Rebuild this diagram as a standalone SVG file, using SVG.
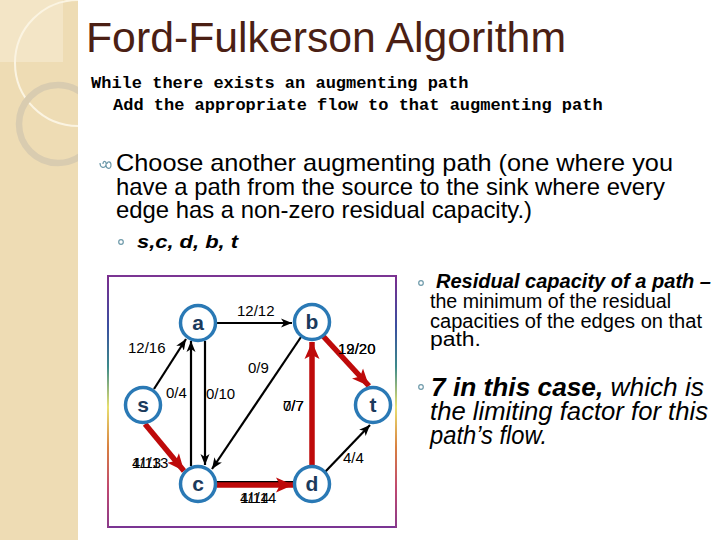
<svg xmlns="http://www.w3.org/2000/svg" width="720" height="540" viewBox="0 0 720 540">
<style>
.title{font-family:"Liberation Sans",Arial,sans-serif;font-size:42px;fill:#4B1F14}
.code{font-family:"Liberation Mono","Courier New",monospace;font-size:17px;font-weight:bold;fill:#000}
.body{font-family:"Liberation Sans",Arial,sans-serif;font-size:24px;fill:#000}
.sub{font-family:"Liberation Sans",Arial,sans-serif;font-size:19px;font-weight:bold;font-style:italic;fill:#000}
.side{font-family:"Liberation Sans",Arial,sans-serif;font-size:19.5px;fill:#000}
.side2{font-family:"Liberation Sans",Arial,sans-serif;font-size:25.5px;font-style:italic;fill:#000}
.bi{font-weight:bold;font-style:italic}
.node circle{fill:#fff;stroke:#2A79B5;stroke-width:3.5}
.node text{font-family:"Liberation Sans",Arial,sans-serif;font-size:21px;font-weight:bold;fill:#1B3A5C;text-anchor:middle}
.blk{stroke:#000;stroke-width:2.2;fill:none;marker-end:url(#ab)}
.red{stroke:#BE0A0A;stroke-width:5.5;fill:none;marker-end:url(#ar)}
.lbl{font-family:"Liberation Sans",Arial,sans-serif;font-size:15px;fill:#000}
.bul{fill:none;stroke:#6E9AAA;stroke-width:1.2}
</style>
<defs>
<marker id="ab" markerUnits="userSpaceOnUse" markerWidth="12" markerHeight="10" refX="11" refY="5" orient="auto">
<path d="M0,0.5 L11,5 L0,9.5 L3,5 z" fill="#000"/>
</marker>
<marker id="ar" markerUnits="userSpaceOnUse" markerWidth="18" markerHeight="16" refX="17" refY="8" orient="auto">
<path d="M0,0.5 L17,8 L0,15.5 L4,8 z" fill="#BE0A0A"/>
</marker>
<linearGradient id="rainbow" gradientUnits="userSpaceOnUse" x1="0" y1="276" x2="0" y2="528">
<stop offset="0" stop-color="#7B2D8E"/>
<stop offset="0.2" stop-color="#3A4EA0"/>
<stop offset="0.36" stop-color="#3C8A8A"/>
<stop offset="0.52" stop-color="#E8E070"/>
<stop offset="0.68" stop-color="#D88040"/>
<stop offset="0.84" stop-color="#C04870"/>
<stop offset="1" stop-color="#8A3A8A"/>
</linearGradient>
<clipPath id="panelclip"><rect x="0" y="0" width="78" height="540"/></clipPath>
</defs>

<rect x="0" y="0" width="720" height="540" fill="#fff"/>
<g id="side-panel">
<rect x="0" y="0" width="78" height="540" fill="#EEDCB4"/>
<g clip-path="url(#panelclip)">
<rect x="0" y="0" width="63" height="62" fill="#F3E5C6"/>
<circle cx="78" cy="63" r="63" fill="none" stroke="#FBF4E2" stroke-width="2"/>
<circle cx="58" cy="124" r="39" fill="none" stroke="#D9CCB0" stroke-width="6.5"/>
</g>
</g>

<text class="title" x="86" y="52" textLength="480" lengthAdjust="spacingAndGlyphs">Ford-Fulkerson Algorithm</text>
<text class="code" x="91" y="88">While there exists an augmenting path</text>
<text class="code" x="113" y="110">Add the appropriate flow to that augmenting path</text>

<path class="bul" d="M100,163 c0,5 5,6 6,2 c1,-4 -3,-5 -3,-1 M106,165 c0,4 5,5 5,0 c0,-4 -4,-4 -4,-1"/>
<text class="body" x="116" y="171" textLength="557" lengthAdjust="spacingAndGlyphs">Choose another augmenting path (one where you</text>
<text class="body" x="116" y="195" textLength="549" lengthAdjust="spacingAndGlyphs">have a path from the source to the sink where every</text>
<text class="body" x="116" y="218" textLength="416" lengthAdjust="spacingAndGlyphs">edge has a non-zero residual capacity.)</text>
<circle class="bul" cx="121" cy="242" r="2.3"/>
<text class="sub" x="137" y="248" textLength="101" lengthAdjust="spacingAndGlyphs">s,c, d, b, t</text>

<circle class="bul" cx="421" cy="283" r="2.3"/>
<text class="side bi" x="436" y="288" textLength="275" lengthAdjust="spacingAndGlyphs">Residual capacity of a path –</text>
<text class="side" x="430" y="308" textLength="241" lengthAdjust="spacingAndGlyphs">the minimum of the residual</text>
<text class="side" x="430" y="328" textLength="272" lengthAdjust="spacingAndGlyphs">capacities of the edges on that</text>
<text class="side" x="430" y="346" textLength="51" lengthAdjust="spacingAndGlyphs">path.</text>

<circle class="bul" cx="421" cy="387" r="2.3"/>
<text class="side2" x="431" y="396" textLength="273" lengthAdjust="spacingAndGlyphs"><tspan font-weight="bold">7 in this case,</tspan> which is</text>
<text class="side2" x="430" y="420" textLength="278" lengthAdjust="spacingAndGlyphs">the limiting factor for this</text>
<text class="side2" x="430" y="444" textLength="117" lengthAdjust="spacingAndGlyphs">path’s flow.</text>

<g id="frame">
<line x1="108" y1="276" x2="396" y2="276" stroke="#7B3593" stroke-width="2"/>
<line x1="108" y1="527" x2="396" y2="527" stroke="#7B3593" stroke-width="2"/>
<line x1="108" y1="275" x2="108" y2="528" stroke="url(#rainbow)" stroke-width="2"/>
<line x1="396" y1="275" x2="396" y2="528" stroke="url(#rainbow)" stroke-width="2"/>
</g>

<g id="connectors">
<line class="blk" x1="154" y1="389" x2="186" y2="339"/>
<line class="blk" x1="217" y1="323" x2="292" y2="323"/>
<line class="blk" x1="205" y1="341" x2="205" y2="465"/>
<line class="blk" x1="191" y1="466" x2="191" y2="341"/>
<line class="blk" x1="301" y1="337" x2="212" y2="469"/>
<line class="blk" x1="325" y1="472" x2="370" y2="425"/>
<line x1="216" y1="482" x2="293" y2="482" stroke="#000" stroke-width="2.2"/>
<line class="red" x1="323" y1="336" x2="369" y2="386"/>
<line class="red" x1="145" y1="424" x2="184" y2="471"/>
<line class="red" x1="217" y1="485" x2="293" y2="485"/>
<line class="red" x1="312" y1="465" x2="312" y2="342"/>
</g>

<g id="edge-labels">
<text class="lbl" x="237" y="316">12/12</text>
<text class="lbl" x="128" y="353">12/16</text>
<text class="lbl" x="248" y="373">0/9</text>
<text class="lbl" x="166" y="398">0/4</text>
<text class="lbl" x="206" y="399">0/10</text>
<text class="lbl" x="283" y="411">0/7</text>
<text class="lbl" x="283" y="411">7/7</text>
<text class="lbl" x="338" y="354">12/20</text>
<text class="lbl" x="338" y="354">19/20</text>
<text class="lbl" x="343" y="463">4/4</text>
<text class="lbl" x="132" y="468">4/13</text>
<text class="lbl" x="132" y="468">11/13</text>
<text class="lbl" x="240" y="503">4/14</text>
<text class="lbl" x="240" y="503">11/14</text>
</g>

<g id="node-a" class="node"><circle cx="198" cy="323" r="17.5"/><text x="198" y="330">a</text></g>
<g id="node-b" class="node"><circle cx="312" cy="322" r="17.5"/><text x="312" y="329">b</text></g>
<g id="node-s" class="node"><circle cx="143" cy="405" r="17.5"/><text x="143" y="412">s</text></g>
<g id="node-t" class="node"><circle cx="373" cy="405" r="17.5"/><text x="373" y="412">t</text></g>
<g id="node-c" class="node"><circle cx="198" cy="484" r="17.5"/><text x="198" y="491">c</text></g>
<g id="node-d" class="node"><circle cx="312" cy="484" r="17.5"/><text x="312" y="491">d</text></g>
</svg>
